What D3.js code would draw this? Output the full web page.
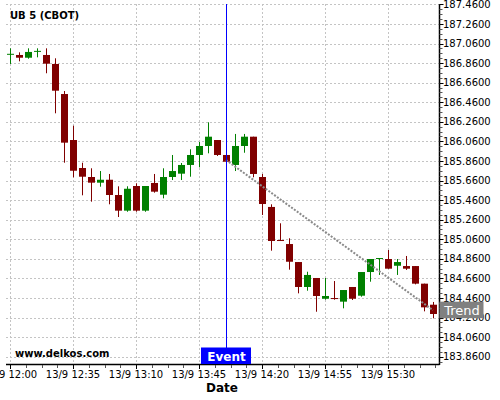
<!DOCTYPE html>
<html><head><meta charset="utf-8">
<script src="https://cdn.jsdelivr.net/npm/d3@7"></script>
<style>
html,body{margin:0;padding:0;background:#fff;}
svg{display:block;font-family:"DejaVu Sans",sans-serif;}
</style></head>
<body><svg id="c" width="500" height="400"></svg>
<script>
const title = "UB 5 (CBOT)";
const times = ["12:00","12:05","12:10","12:15","12:20","12:25","12:30","12:35","12:40","12:45",
 "12:50","12:55","13:00","13:05","13:10","13:15","13:20","13:25","13:30","13:35",
 "13:40","13:45","13:50","13:55","14:00","14:05","14:10","14:15","14:20","14:25",
 "14:30","14:35","14:40","14:45","14:50","14:55","15:00","15:05","15:10","15:15",
 "15:20","15:25","15:30","15:35","15:40","15:45","15:50","15:55"];
const open  = [186.950,186.943,186.915,186.980,186.943,186.851,186.544,186.074,185.788,185.696,
 185.638,185.668,185.512,185.352,185.604,185.352,185.635,185.515,185.696,185.730,
 185.819,185.921,186.013,186.074,185.921,185.819,186.013,186.108,185.696,185.390,
 185.052,185.011,184.827,184.572,184.664,184.452,184.459,184.422,184.572,184.483,
 184.725,184.858,184.858,184.789,184.786,184.786,184.606,184.391];
const high  = [187.011,186.970,187.011,187.011,187.011,186.909,186.575,186.220,185.842,185.785,
 185.757,185.727,185.601,185.601,185.632,185.604,185.727,185.785,185.921,185.839,
 185.979,186.054,186.255,186.074,185.921,186.136,186.136,186.108,185.727,185.417,
 185.223,185.070,184.827,184.728,184.664,184.664,184.633,184.541,184.572,184.725,
 184.858,184.868,184.950,184.858,184.889,184.786,184.606,184.419];
const low   = [186.851,186.878,186.905,186.919,186.756,186.347,185.842,185.693,185.509,185.444,
 185.597,185.417,185.287,185.341,185.341,185.341,185.536,185.478,185.665,185.665,
 185.699,185.795,185.938,185.911,185.852,185.757,185.944,185.693,185.308,184.943,
 185.042,184.749,184.507,184.534,184.319,184.442,184.442,184.354,184.439,184.473,
 184.626,184.695,184.759,184.695,184.746,184.599,184.323,184.252];
const close = [186.955,186.915,186.974,186.985,186.854,186.578,186.047,185.760,185.699,185.638,
 185.668,185.512,185.352,185.576,185.352,185.604,185.546,185.696,185.757,185.819,
 185.921,186.013,186.108,185.921,185.852,186.013,186.108,185.727,185.420,185.042,
 185.042,184.830,184.572,184.695,184.480,184.480,184.452,184.541,184.452,184.725,
 184.858,184.868,184.759,184.827,184.759,184.606,184.364,184.296];
const xTickLabels = ["12:00","12:35","13:10","13:45","14:20","14:55","15:30"];
const yTicks = [183.86,184.06,184.26,184.46,184.66,184.86,185.06,185.26,185.46,185.66,185.86,186.06,186.26,186.46,186.66,186.86,187.06,187.26,187.46];
const eventTime = "14:00";
const trendTimes = ["14:00","15:55"];
const trendValues = [185.870, 184.335];

const day = (hm) => { const [h,m] = hm.split(":").map(Number); return new Date(2023, 8, 13, h, m, 0); };
const data = times.map((t,i)=>({t:day(t),o:open[i],h:high[i],l:low[i],c:close[i]}));

const svg = d3.select("#c");
const L = 6, R = 439.5, T = 4, B = 364;
const x = d3.scaleTime().domain([day(times[0]), day(times[times.length-1])]).range([10, 433]);
const y = d3.scaleLinear().domain([183.785, 187.464]).range([B, T]);
const fmt = d3.timeFormat("%-d/%-m %H:%M");
const px = d => Math.round(x(d));

const majorX = xTickLabels.map(day);
const tEnd = x.invert(R);
const minorX = [];
for (let d = day("12:00").getTime(); d <= tEnd.getTime(); d += 8.75*60000) minorX.push(new Date(d));
const minorY = [];
for (let v = 183.86 - 0.05; v <= 187.464; v += 0.05) if (v >= 183.785) minorY.push(+v.toFixed(3));

// grid
const g = svg.append("g");
g.selectAll("line.hg").data(yTicks).join("line").attr("class","hg")
  .attr("x1", L).attr("x2", R).attr("y1", d=>Math.round(y(d))+0.5).attr("y2", d=>Math.round(y(d))+0.5)
  .attr("stroke","#c4c4c4").attr("stroke-dasharray","2,2");
g.selectAll("line.vg").data(majorX).join("line").attr("class","vg")
  .attr("x1", d=>px(d)+0.5).attr("x2", d=>px(d)+0.5).attr("y1", T).attr("y2", B)
  .attr("stroke","#c4c4c4").attr("stroke-dasharray","2,2");

// candles
const cg = svg.append("g");
const col = d => d.c >= d.o ? "#008000" : "#800000";
cg.selectAll("line.w").data(data).join("line").attr("class","w")
  .attr("x1", d=>px(d.t)+0.5).attr("x2", d=>px(d.t)+0.5)
  .attr("y1", d=>y(d.h)).attr("y2", d=>y(d.l)).attr("stroke", col).attr("stroke-width",1);
cg.selectAll("rect.b").data(data).join("rect").attr("class","b")
  .attr("x", d=>px(d.t)-3).attr("width", 7)
  .attr("y", d=>y(Math.max(d.o,d.c))).attr("height", d=>Math.max(1, y(Math.min(d.o,d.c))-y(Math.max(d.o,d.c))))
  .attr("fill", col);

// trend line
svg.append("line")
  .attr("x1", x(day(trendTimes[0]))).attr("y1", y(trendValues[0]))
  .attr("x2", x(day(trendTimes[1]))).attr("y2", y(trendValues[1]))
  .attr("stroke","#8a8a8a").attr("stroke-width",2).attr("stroke-dasharray","2,1.5");

// event line
const ex = px(day(eventTime))+0.5;
svg.append("rect").attr("x",ex-0.5).attr("y",T).attr("width",1).attr("height",B-T).style("fill","#0000ff");

// axes
const ax = svg.append("g");
ax.append("line").attr("x1",L).attr("x2",R).attr("y1",B+0.5).attr("y2",B+0.5).attr("stroke","#000").attr("stroke-width",1.5);
ax.append("line").attr("x1",R).attr("x2",R).attr("y1",T).attr("y2",B+1).attr("stroke","#000").attr("stroke-width",1.5);
ax.selectAll("line.mx").data(minorX).join("line").attr("class","mx")
  .attr("x1", d=>px(d)+0.5).attr("x2", d=>px(d)+0.5).attr("y1",B+1).attr("y2",B+4).attr("stroke","#555");
ax.selectAll("line.Mx").data(majorX).join("line").attr("class","Mx")
  .attr("x1", d=>px(d)+0.5).attr("x2", d=>px(d)+0.5).attr("y1",B+1).attr("y2",B+5).attr("stroke","#000");
ax.selectAll("text.xl").data(majorX).join("text").attr("class","xl")
  .attr("x", d=>x(d)).attr("y", 377.5).attr("text-anchor","middle").attr("font-size",10).attr("fill","#000")
  .text(d=>fmt(d));
ax.selectAll("line.my").data(minorY).join("line").attr("class","my")
  .attr("x1",R).attr("x2",R+3).attr("y1", d=>Math.round(y(d))+0.5).attr("y2", d=>Math.round(y(d))+0.5).attr("stroke","#555");
ax.selectAll("line.My").data(yTicks).join("line").attr("class","My")
  .attr("x1",R).attr("x2",R+4).attr("y1", d=>Math.round(y(d))+0.5).attr("y2", d=>Math.round(y(d))+0.5).attr("stroke","#000");
ax.selectAll("text.yl").data(yTicks).join("text").attr("class","yl")
  .attr("x", 443).attr("y", d=>y(d)+3.6).attr("font-size",10).attr("fill","#000")
  .text(d=>d.toFixed(4));

// labels
svg.append("text").attr("x",10).attr("y",19).attr("font-size",10).attr("font-weight","bold").text(title);
svg.append("text").attr("x",15).attr("y",357).attr("font-size",10).attr("font-weight","bold").text("www.delkos.com");
svg.append("text").attr("x",222).attr("y",392).attr("text-anchor","middle").attr("font-size",12).attr("font-weight","bold").text("Date");

// event label
svg.append("rect").attr("x",ex-25.5).attr("y",347.5).attr("width",50).attr("height",16.5).style("fill","#0000ff");
svg.append("text").attr("x",ex).attr("y",360.5).attr("text-anchor","middle").attr("font-size",12).attr("font-weight","bold").attr("fill","#fff").text("Event");

// trend label
const ty = y(trendValues[1]);
svg.append("rect").attr("x",R).attr("y",ty-8.5).attr("width",44).attr("height",16.5).attr("fill","#808080");
svg.append("text").attr("x",R+22.5).attr("y",ty+4.5).attr("text-anchor","middle").attr("font-size",13).attr("fill","#fff").text("Trend");
</script></body></html>
